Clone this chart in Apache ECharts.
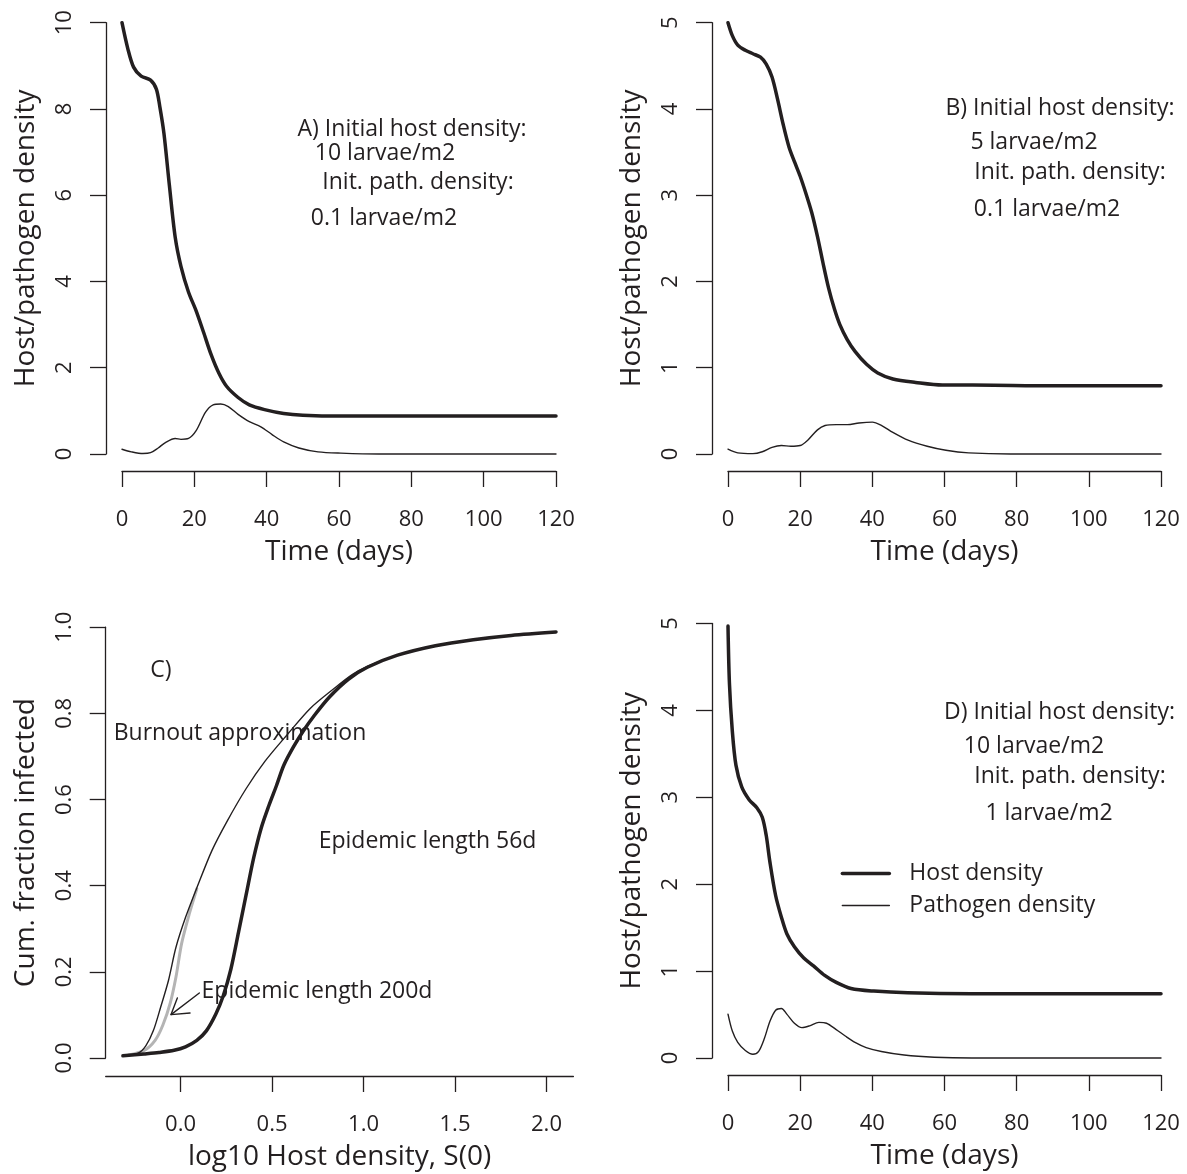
<!DOCTYPE html>
<html><head><meta charset="utf-8">
<script src="https://cdn.jsdelivr.net/npm/echarts@6.0.0/dist/echarts.min.js"></script>
<style>html,body{margin:0;padding:0;background:#fff}#c{width:1187px;height:1174px}</style>
</head><body><div id="c"></div>
<script>
// ---------------- Panel A ----------------
const hostA_t = [0,1.6,3.2,5.3,7.9,9.5,10.5,11.6,13.1,14.7,16.3,18.4,20.5,22.6,24.7,26.8,28.9,32.1,35.2,39.4,44.7,50,60.5,80,100,120];
const hostA_v = [10,9.4,8.97,8.76,8.67,8.46,8.03,7.43,6.23,5.03,4.35,3.75,3.32,2.81,2.29,1.87,1.57,1.31,1.14,1.03,0.94,0.90,0.88,0.88,0.88,0.88];
const pathA_t = [0,2.6,5.8,7.9,10,12.1,14.7,16.3,18.4,20.5,23.1,25.2,27.3,29.4,32.1,35.2,38.4,41.5,44.7,48.9,54.2,60.5,71,90,120];
const pathA_v = [0.11,0.05,0.01,0.03,0.14,0.27,0.36,0.34,0.36,0.54,0.97,1.14,1.16,1.10,0.92,0.75,0.63,0.45,0.28,0.14,0.05,0.02,0.0,0,0];
// ---------------- Panel B ----------------
const hostB_t = [0,1.2,2.7,4.8,6.9,9.0,10.6,12.2,13.7,15.3,16.9,18.5,20.0,21.6,23.2,24.8,26.3,27.9,29.5,31.0,33.0,35.2,38.4,41.5,45.7,52,59.4,67.8,90,120];
const hostB_v = [5,4.85,4.74,4.68,4.64,4.60,4.52,4.37,4.12,3.82,3.56,3.38,3.22,3.02,2.80,2.52,2.22,1.92,1.68,1.50,1.33,1.19,1.04,0.94,0.87,0.83,0.80,0.80,0.79,0.79];
const pathB_t = [0,2.7,6.9,9.5,12.2,14.8,17.4,20.0,22.1,24.8,26.9,30.0,33.1,36.3,40.0,42.6,45.7,49.9,55.2,60.4,66.7,78.3,100,120];
const pathB_v = [0.056,0.013,0.004,0.026,0.077,0.098,0.09,0.098,0.16,0.28,0.33,0.34,0.34,0.36,0.37,0.33,0.25,0.16,0.09,0.043,0.013,0,0,0];
// ---------------- Panel C ----------------
const epi56_x = [-0.315,-0.2,-0.118,-0.035,0.027,0.089,0.141,0.193,0.234,0.275,0.317,0.358,0.40,0.441,0.482,0.524,0.565,0.617,0.669,0.731,0.814,0.917,1.021,1.186,1.393,1.60,1.807,2.052];
const epi56_y = [0.005,0.0095,0.013,0.018,0.026,0.041,0.063,0.102,0.145,0.206,0.292,0.378,0.465,0.534,0.585,0.632,0.68,0.722,0.758,0.795,0.838,0.879,0.907,0.935,0.957,0.971,0.981,0.989];
const burn_x = [-0.315,-0.232,-0.19,-0.149,-0.108,-0.066,-0.025,0.027,0.089,0.172,0.255,0.358,0.462,0.586,0.71,0.834,0.938,1.021,1.186,1.393,1.60,1.807,2.052];
const burn_y = [0.005,0.011,0.028,0.063,0.119,0.18,0.257,0.326,0.395,0.482,0.55,0.625,0.689,0.752,0.812,0.856,0.89,0.909,0.935,0.957,0.971,0.981,0.989];
const epi200_x = [-0.284,-0.2,-0.139,-0.097,-0.056,-0.025,0.006,0.048,0.089];
const epi200_y = [0.007,0.017,0.041,0.076,0.128,0.188,0.266,0.335,0.393];
const arrowShaftC = [[0.1027,0.1509],[-0.0519,0.1007]];
const arrowHeadC = [[-0.0175,0.1394],[-0.0519,0.1007],[0.0519,0.1046]];
// ---------------- Panel D ----------------
const hostD_t = [0,0.4,1.2,2.2,3.8,5.9,8.0,9.5,10.6,11.6,13.2,14.8,16.3,18.4,21.0,23.7,26.8,30.0,34.1,40.4,49.8,67.6,90,120];
const hostD_v = [4.97,4.31,3.76,3.37,3.12,2.97,2.88,2.77,2.56,2.26,1.87,1.62,1.43,1.28,1.15,1.06,0.95,0.87,0.80,0.77,0.75,0.74,0.74,0.74];
const pathD_t = [0,1.2,2.7,4.8,6.9,8.5,10.1,11.6,13.2,14.8,16.3,18.4,20.5,22.6,25.2,27.3,29.9,32.6,35.2,38.3,42.5,48.8,57.2,67.6,90,120];
const pathD_v = [0.505,0.31,0.18,0.086,0.043,0.077,0.227,0.42,0.55,0.57,0.505,0.40,0.35,0.37,0.41,0.40,0.33,0.25,0.18,0.12,0.075,0.034,0.009,0,0,0];
// ---------------- Tick labels ----------------
const timeTicks = [0,20,40,60,80,100,120];
const logTicks = [0,0.5,1.0,1.5,2.0];
const fracTicks = [0,0.2,0.4,0.6,0.8,1.0];

const INK = '#231f20';
const GREY = '#b4b4b4';
const FONT = 'Open Sans';
const zip = (a, b) => a.map((v, i) => [v, b[i]]);

function xAxis(gi, min, max, name, extra) {
  return Object.assign({
    type: 'value', gridIndex: gi, min: min, max: max, name: name,
    nameLocation: 'middle', nameGap: 67,
    nameTextStyle: {color: INK, fontFamily: FONT, fontSize: 28},
    offset: 17,
    axisLine: {show: true, onZero: false, lineStyle: {color: INK, width: 1.3}},
    axisTick: {show: true, length: 16, lineStyle: {color: INK, width: 1.3}},
    axisLabel: {color: INK, fontFamily: FONT, fontSize: 22, margin: 38},
    splitLine: {show: false}
  }, extra || {});
}
function yAxis(gi, min, max, name, extra) {
  return Object.assign({
    type: 'value', gridIndex: gi, min: min, max: max, name: name,
    nameLocation: 'middle', nameGap: 66, nameRotate: 90,
    nameTextStyle: {color: INK, fontFamily: FONT, fontSize: 28},
    offset: 16,
    axisLine: {show: true, onZero: false, lineStyle: {color: INK, width: 1.3}},
    axisTick: {show: true, length: 16, lineStyle: {color: INK, width: 1.3}},
    axisLabel: {color: INK, fontFamily: FONT, fontSize: 22, margin: 30, rotate: 90},
    splitLine: {show: false}
  }, extra || {});
}
function line(name, xi, yi, data, width, color, z) {
  return {
    name: name, type: 'line', xAxisIndex: xi, yAxisIndex: yi, data: data,
    symbol: 'none', showSymbol: false, smooth: 0.3, clip: false, z: z || 2,
    lineStyle: {color: color || INK, width: width, cap: 'round', join: 'round'},
    itemStyle: {color: color || INK}, silent: true, animation: false
  };
}
function annot(text, x, y) {
  return {type: 'text', x: x, y: y, silent: true,
    style: {text: text, fill: INK, font: '23px "Open Sans"', align: 'center', verticalAlign: 'middle'}};
}

const option = {
  backgroundColor: '#fff',
  animation: false,
  grid: [
    {left: 122, top: 22.7, width: 434, height: 431.3, outerBoundsMode: 'none'},
    {left: 728, top: 22.7, width: 433, height: 431.3, outerBoundsMode: 'none'},
    {left: 105.7, top: 627.2, width: 467.7, height: 430.8, outerBoundsMode: 'none'},
    {left: 728, top: 623.5, width: 433, height: 434.5, outerBoundsMode: 'none'}
  ],
  xAxis: [
    xAxis(0, 0, 120, 'Time (days)', {interval: 20}),
    xAxis(1, 0, 120, 'Time (days)', {interval: 20}),
    xAxis(2, -0.409, 2.147, 'log10 Host density, S(0)', {
      offset: 18,
      axisTick: {show: true, length: 16, lineStyle: {color: INK, width: 1.3}, customValues: logTicks},
      axisLabel: {color: INK, fontFamily: FONT, fontSize: 22, margin: 38, customValues: logTicks,
        formatter: v => Number(v).toFixed(1)}
    }),
    xAxis(3, 0, 120, 'Time (days)', {interval: 20})
  ],
  yAxis: [
    yAxis(0, 0, 10, 'Host/pathogen density', {interval: 2}),
    yAxis(1, 0, 5, 'Host/pathogen density', {interval: 1}),
    yAxis(2, 0, 1, 'Cum. fraction infected', {interval: 0.2, offset: 0,
      axisLabel: {color: INK, fontFamily: FONT, fontSize: 22, margin: 30, rotate: 90,
        formatter: v => Number(v).toFixed(1)}}),
    yAxis(3, 0, 5, 'Host/pathogen density', {interval: 1})
  ],
  legend: {
    data: [
      {name: 'Host density', lineStyle: {width: 3.5, color: INK}},
      {name: 'Pathogen density', lineStyle: {width: 1.4, color: INK}}
    ],
    orient: 'vertical', left: 840.6, top: 862, padding: 0,
    itemWidth: 47, itemHeight: 14, itemGap: 9,
    selectedMode: false,
    itemStyle: {color: 'rgba(0,0,0,0)', borderWidth: 0, opacity: 0},
    textStyle: {color: INK, fontFamily: FONT, fontSize: 23, padding: [0, 0, 0, 15]}
  },
  series: [
    line('A host', 0, 0, zip(hostA_t, hostA_v), 3.5),
    line('A pathogen', 0, 0, zip(pathA_t, pathA_v), 1.4),
    line('B host', 1, 1, zip(hostB_t, hostB_v), 3.5),
    line('B pathogen', 1, 1, zip(pathB_t, pathB_v), 1.4),
    line('Epidemic length 200d', 2, 2, zip(epi200_x, epi200_y), 3, GREY, 1),
    line('Burnout approximation', 2, 2, zip(burn_x, burn_y), 1.4, INK, 2),
    line('Epidemic length 56d', 2, 2, zip(epi56_x, epi56_y), 3.5, INK, 3),
    Object.assign(line('arrow shaft', 2, 2, arrowShaftC, 1.4), {smooth: false}),
    Object.assign(line('arrow head', 2, 2, arrowHeadC, 1.4), {smooth: false}),
    line('Host density', 3, 3, zip(hostD_t, hostD_v), 3.5),
    line('Pathogen density', 3, 3, zip(pathD_t, pathD_v), 1.4)
  ],
  graphic: [
    annot('A) Initial host density:', 412, 129.3),
    annot('10 larvae/m2', 385, 153.3),
    annot('Init. path. density:', 418, 182.9),
    annot('0.1 larvae/m2', 384, 218),
    annot('B) Initial host density:', 1060, 108.2),
    annot('5 larvae/m2', 1034, 142.2),
    annot('Init. path. density:', 1070, 172.5),
    annot('0.1 larvae/m2', 1047, 209.8),
    annot('C)', 161, 670),
    annot('Burnout approximation', 240, 733.2),
    annot('Epidemic length 56d', 427.5, 841),
    annot('Epidemic length 200d', 317, 991.8),
    annot('D) Initial host density:', 1059.5, 712),
    annot('10 larvae/m2', 1034, 746.3),
    annot('Init. path. density:', 1070, 776),
    annot('1 larvae/m2', 1049, 813.2)
  ]
};
const chart = echarts.init(document.getElementById('c'), null, {renderer: 'canvas'});
chart.setOption(option);
</script>
</body></html>
